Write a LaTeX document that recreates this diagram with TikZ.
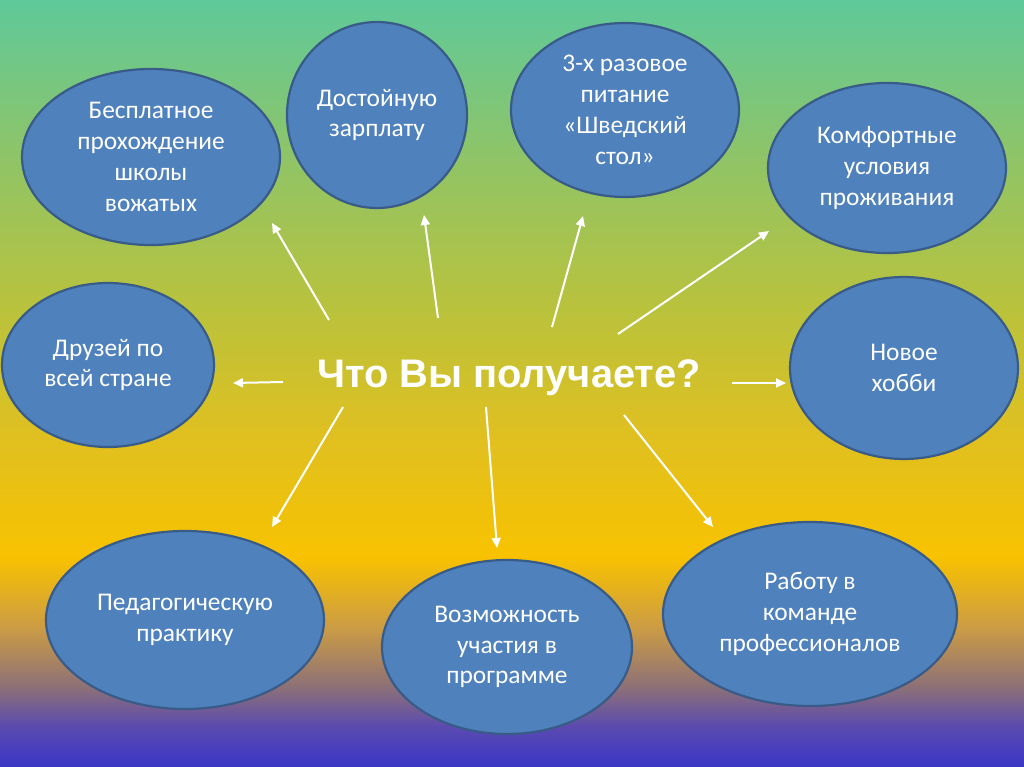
\documentclass[tikz,border=0pt]{standalone}
\usepackage{fontspec}
\setmainfont{Carlito}
\newfontfamily\headfont{Liberation Sans}
\usetikzlibrary{arrows.meta,shapes.geometric}
\definecolor{perkBlueFill}{HTML}{4F81BD}
\definecolor{perkBlueLine}{HTML}{385B88}
\definecolor{bgA}{HTML}{3A36C6}
\definecolor{bgB}{HTML}{5A4AB0}
\definecolor{bgC}{HTML}{8C7078}
\definecolor{bgD}{HTML}{CC9C44}
\definecolor{bgE}{HTML}{F8C200}
\definecolor{bgF}{HTML}{E0C020}
\definecolor{bgG}{HTML}{BCC23A}
\definecolor{bgH}{HTML}{92C464}
\definecolor{bgI}{HTML}{5EC99A}
\pgfdeclareverticalshading{perkfade}{100bp}{color(0bp)=(bgA); color(25bp)=(bgA);
  color(27.6bp)=(bgB); color(30.2bp)=(bgC); color(34.1bp)=(bgD);
  color(38.7bp)=(bgE); color(46.5bp)=(bgF); color(54.3bp)=(bgG);
  color(64.1bp)=(bgH); color(75bp)=(bgI); color(100bp)=(bgI)}
\tikzset{
  perk/bubble/.style={ellipse, draw=perkBlueLine, line width=2.2bp,
    fill=perkBlueFill, text=white, align=center, inner sep=0pt,
    font=\fontsize{25.5}{31}\selectfont},
  perk/heading/.style={text=white, font=\headfont\bfseries\fontsize{40}{48}\selectfont},
  perk/spoke/.style={-{Triangle[length=10bp,width=9bp]}, draw=white,
    line width=2bp},
}

\begin{document}
\begin{tikzpicture}[x=1bp, y=-1bp]
\path[shading=perkfade] (0,0) rectangle (1024,767);
\useasboundingbox (0,0) rectangle (1024,767);
% benefits around the question
\node[perk/bubble, minimum width=258bp, minimum height=176bp] (school) at (151,157) {Бесплатное\\прохождение\\школы\\вожатых};
\node[perk/bubble, minimum width=180bp, minimum height=186bp] (salary) at (377,115) {Достойную\\зарплату};
\node[perk/bubble, minimum width=228bp, minimum height=174bp] (meals) at (625,110) {3-х разовое\\питание\\«Шведский\\стол»};
\node[perk/bubble, minimum width=238bp, minimum height=170bp] (living) at (887,168) {Комфортные\\условия\\проживания};
\node[perk/bubble, minimum width=212bp, minimum height=164bp] (friends) at (108,365) {Друзей по\\всей стране};
\node[perk/bubble, minimum width=228bp, minimum height=182bp] (hobby) at (904,368) {Новое\\хобби};
\node[perk/bubble, minimum width=278bp, minimum height=178bp] (practice) at (185,620) {Педагогическую\\практику};
\node[perk/bubble, minimum width=250bp, minimum height=174bp] (program) at (507,647) {Возможность\\участия в\\программе};
\node[perk/bubble, minimum width=294bp, minimum height=184bp] (team) at (810,614) {Работу в\\команде\\профессионалов};
\node[perk/heading] (question) at (509,378) {Что Вы получаете?};
% spoke ends
\coordinate (s1) at (329,320); \coordinate (h1) at (272,223);
\coordinate (s2) at (438,318); \coordinate (h2) at (424,215);
\coordinate (s3) at (552,327); \coordinate (h3) at (583,216);
\coordinate (s4) at (618,334); \coordinate (h4) at (769,231);
\coordinate (s5) at (283,382); \coordinate (h5) at (233,383);
\coordinate (s6) at (732,383); \coordinate (h6) at (786,383);
\coordinate (s7) at (343,407); \coordinate (h7) at (272,527);
\coordinate (s8) at (486,407); \coordinate (h8) at (497,548);
\coordinate (s9) at (624,415); \coordinate (h9) at (713,527);
\draw[perk/spoke] (s1) -- (h1);
\draw[perk/spoke] (s2) -- (h2);
\draw[perk/spoke] (s3) -- (h3);
\draw[perk/spoke] (s4) -- (h4);
\draw[perk/spoke] (s5) -- (h5);
\draw[perk/spoke] (s6) -- (h6);
\draw[perk/spoke] (s7) -- (h7);
\draw[perk/spoke] (s8) -- (h8);
\draw[perk/spoke] (s9) -- (h9);
\end{tikzpicture}
\end{document}
